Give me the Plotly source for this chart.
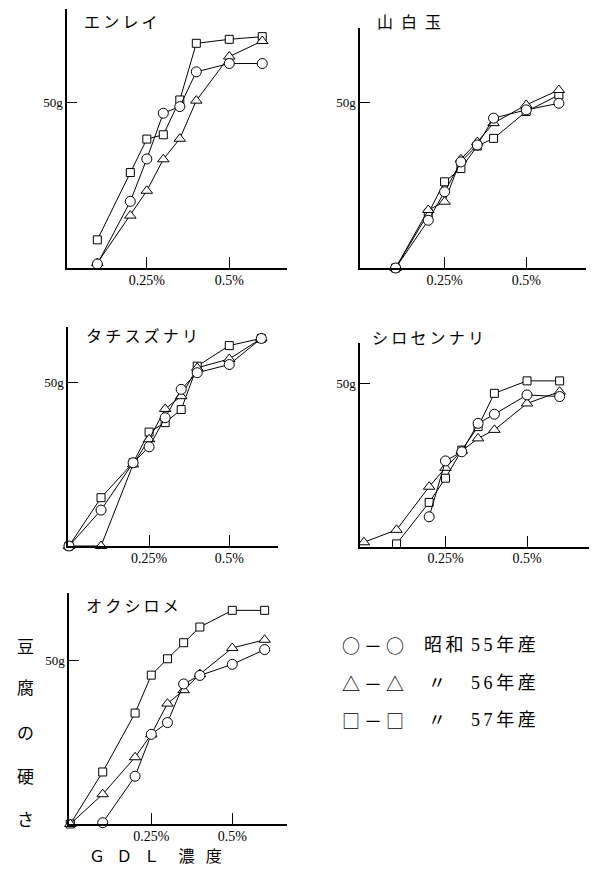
import plotly.graph_objects as go

# ---------------- data ----------------
GDL = [0, 0.1, 0.2, 0.25, 0.3, 0.35, 0.4, 0.5, 0.6]   # GDL concentration (%)

VARIETIES = ["エンレイ", "山白玉", "タチスズナリ", "シロセンナリ", "オクシロメ"]
SERIES_NAMES = ["昭和55年産", "〃 56年産", "〃 57年産"]

# tofu hardness (g) per variety, per harvest year (None = not measured)
ENREI_55 = [None, 1.2, 20.1, 32.9, 46.7, 48.7, 59.2, 61.7, 61.7]
ENREI_56 = [None, 1.5, 15.8, 23.3, 32.8, 39.0, 50.5, 63.8, 68.5]
ENREI_57 = [None, 8.5, 28.8, 38.9, 40.2, 50.7, 67.8, 69.0, 69.8]

YAMASHIRO_55 = [None, 0.0, 14.4, 23.0, 32.0, 37.1, 45.2, 47.7, 49.7]
YAMASHIRO_56 = [None, 0.0, 17.5, 20.0, 32.8, 38.0, 43.7, 49.2, 53.7]
YAMASHIRO_57 = [None, 0.0, 16.5, 26.0, 30.0, 36.8, 39.1, 47.2, 52.2]

TACHI_55 = [0.0, 11.0, 25.5, 30.4, 39.3, 48.0, 53.1, 55.6, 63.6]
TACHI_56 = [0.0, 0.0, 25.0, 32.7, 42.0, 45.9, 54.6, 57.3, 63.6]
TACHI_57 = [0.0, 14.8, 25.5, 34.9, 37.8, 41.8, 55.1, 61.4, 63.6]

SHIRO_55 = [None, None, 9.1, 26.2, 29.0, 37.7, 40.5, 46.4, 45.9]
SHIRO_56 = [1.3, 5.1, 18.3, 24.1, 29.3, 33.1, 35.7, 43.8, 47.4]
SHIRO_57 = [None, 0.8, 13.5, 20.9, 29.5, 36.7, 46.9, 50.7, 50.7]

OKU_55 = [None, 0.4, 14.6, 27.4, 31.0, 42.8, 45.4, 48.8, 53.3]
OKU_56 = [0.0, 9.1, 20.4, 27.4, 36.8, 40.9, 45.8, 53.8, 56.3]
OKU_57 = [0.0, 15.9, 33.9, 45.5, 50.5, 55.4, 60.2, 65.3, 65.3]

PANEL_DATA = [
    (ENREI_55, ENREI_56, ENREI_57),
    (YAMASHIRO_55, YAMASHIRO_56, YAMASHIRO_57),
    (TACHI_55, TACHI_56, TACHI_57),
    (SHIRO_55, SHIRO_56, SHIRO_57),
    (OKU_55, OKU_56, OKU_57),
]

X_TICKS = [0.25, 0.5]
X_TICKTEXT = ["0.25%", "0.5%"]
Y_TICKS = [50]
Y_TICKTEXT = ["50g"]

YLABEL_CHARS = ["豆", "腐", "の", "硬", "さ"]
XLABEL = "Ｇ\u2002\u2009Ｄ\u2002\u2009Ｌ\u2003\u2009濃\u2002\u2009度"

LEG_SYMS = ["○ － ○", "△ － △", "□ － □"]
LEG_MID = ["昭和", "〃", "〃"]
LEG_YEAR = ["55年産", "56年産", "57年産"]

# ---------------- layout (screen pixels) ----------------
SW, SH = 598, 874          # browser window
OFF = 8                    # default page body margin
W, H = SW - 2 * OFF, SH - 2 * OFF

# left, right, bottom, top (screen px), x range, y max
PANELS = [
    dict(l=67, r=287, b=268, t=8.5, xr=[0.008, 0.675], ymax=78.3),
    dict(l=360, r=586, b=268, t=28, xr=[-0.009, 0.683], ymax=72.4),
    dict(l=68, r=278, b=546, t=327, xr=[-0.003, 0.652], ymax=67.1),
    dict(l=360, r=589, b=546.5, t=343, xr=[-0.012, 0.690], ymax=62.3),
    dict(l=69, r=287, b=824, t=593, xr=[-0.004, 0.669], ymax=70.6),
]
# (left x, y, y-anchor, separator)
TITLE_POS = [(83, 8.3, "top", "\u2009"), (376, 8.3, "top", "\u2002"),
             (85, 335, "middle", "\u2009"), (371, 337, "middle", "\u2009"),
             (85, 605, "middle", "\u2009")]

SERIF = "Liberation Serif, DejaVu Serif, Noto Sans CJK JP"
JP = "Noto Sans CJK JP"

SYMBOLS = ["circle", "triangle-up", "square"]
SIZES = [10, 10, 8]


def px_x(x):
    return (x - OFF) / W


def px_y(y):
    return 1 - (y - OFF) / H


fig = go.Figure()
layout = dict(
    width=W, height=H, autosize=False,
    margin=dict(l=0, r=0, t=0, b=0),
    paper_bgcolor="white", plot_bgcolor="white",
    showlegend=False,
    font=dict(family=SERIF, color="black"),
)
annotations = []

for i, (p, data) in enumerate(zip(PANELS, PANEL_DATA)):
    n = "" if i == 0 else str(i + 1)
    xa, ya = "x" + n, "y" + n
    for k in [2, 1, 0]:
        fig.add_trace(go.Scatter(
            x=GDL, y=data[k], xaxis=xa, yaxis=ya,
            mode="lines+markers", name=SERIES_NAMES[k],
            line=dict(color="black", width=1),
            marker=dict(symbol=SYMBOLS[k], size=SIZES[k], color="white",
                        line=dict(color="black", width=1)),
            cliponaxis=False, connectgaps=False,
        ))
    layout["xaxis" + n] = dict(
        domain=[px_x(p["l"]), px_x(p["r"])], anchor=ya, range=p["xr"],
        showline=True, linecolor="black", linewidth=1.5, showgrid=False,
        zeroline=False, ticks="inside", ticklen=11, tickwidth=1.2,
        tickcolor="black", tickvals=X_TICKS, ticktext=X_TICKTEXT,
        tickfont=dict(family=SERIF, size=14, color="black"),
        ticklabelstandoff=-2, fixedrange=True,
    )
    layout["yaxis" + n] = dict(
        domain=[px_y(p["b"]), px_y(p["t"])], anchor=xa, range=[0, p["ymax"]],
        showline=True, linecolor="black", linewidth=1.5, showgrid=False,
        zeroline=False, ticks="inside", ticklen=10, tickwidth=1.2,
        tickcolor="black", tickvals=Y_TICKS, ticktext=Y_TICKTEXT,
        tickfont=dict(family=SERIF, size=13, color="black"),
        fixedrange=True,
    )
    tx, ty, yanc, sep = TITLE_POS[i]
    annotations.append(dict(
        text=sep.join(VARIETIES[i]), x=px_x(tx), y=px_y(ty),
        xref="paper", yref="paper", xanchor="left", yanchor=yanc,
        showarrow=False, borderpad=0,
        font=dict(family=JP, size=16, color="black"),
    ))

# y-axis title (vertical, one character per line)
for ch, yy in zip(YLABEL_CHARS, [645, 686, 731, 775, 818]):
    annotations.append(dict(
        text=ch, x=px_x(25), y=px_y(yy), xref="paper", yref="paper",
        xanchor="center", yanchor="middle", showarrow=False, borderpad=0,
        font=dict(family=JP, size=17, color="black"),
    ))

# x-axis title
annotations.append(dict(
    text=XLABEL, x=px_x(155), y=px_y(855), xref="paper", yref="paper",
    xanchor="center", yanchor="middle", showarrow=False, borderpad=0,
    font=dict(family=JP, size=16, color="black"),
))

# legend block
for r, yy in enumerate([645, 683, 720]):
    annotations.append(dict(
        text=LEG_SYMS[r], x=px_x(341), y=px_y(yy), xref="paper", yref="paper",
        xanchor="left", yanchor="middle", showarrow=False, borderpad=0,
        font=dict(family=JP, size=18, color="black"),
    ))
    annotations.append(dict(
        text="\u2009".join(LEG_MID[r]), x=px_x(444 if r == 0 else 437),
        y=px_y(yy), xref="paper", yref="paper", xanchor="center",
        yanchor="middle", showarrow=False, borderpad=0,
        font=dict(family=SERIF, size=18, color="black"),
    ))
    annotations.append(dict(
        text="\u2009".join(LEG_YEAR[r]), x=px_x(470), y=px_y(yy),
        xref="paper", yref="paper", xanchor="left", yanchor="middle",
        showarrow=False, borderpad=0,
        font=dict(family=SERIF, size=18, color="black"),
    ))

layout["annotations"] = annotations
fig.update_layout(**layout)
fig.write_html("out.html")
